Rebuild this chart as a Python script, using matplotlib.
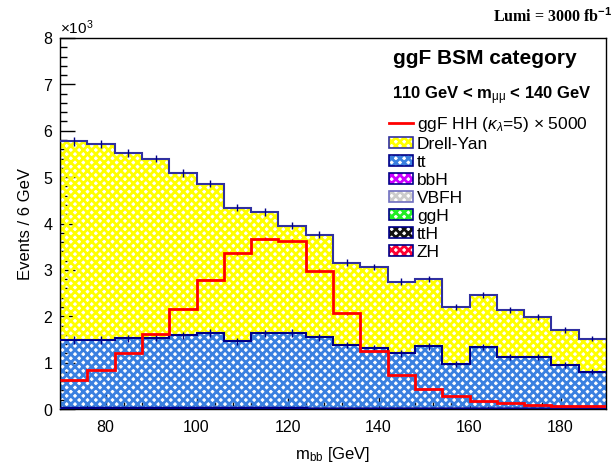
import matplotlib
matplotlib.use("Agg")
import matplotlib.pyplot as plt
from matplotlib.patches import Patch
from matplotlib.lines import Line2D
from matplotlib.ticker import MultipleLocator
import numpy as np

plt.rcParams['font.family'] = ['Liberation Sans', 'DejaVu Sans']
plt.rcParams['mathtext.fontset'] = 'custom'
plt.rcParams['mathtext.rm'] = 'Liberation Sans'
plt.rcParams['mathtext.it'] = 'Liberation Sans:italic'
plt.rcParams['mathtext.bf'] = 'Liberation Sans:bold'
plt.rcParams['hatch.linewidth'] = 2.0

# m_bb binning: 20 bins of 6 GeV
edges = np.arange(70, 191, 6)

# events per bin
drell_yan = [4280, 4220, 4000, 3860, 3500, 3220, 2880, 2620, 2310, 2210,
             1770, 1740, 1550, 1460, 1220, 1130, 1010, 870, 750, 710]
ttbar = [1480, 1480, 1510, 1530, 1580, 1630, 1450, 1620, 1630, 1540,
         1370, 1310, 1190, 1340, 970, 1330, 1110, 1110, 950, 800]
zh = [3, 3, 3, 3, 3, 4, 4, 4, 3, 3, 3, 2, 2, 2, 2, 2, 1, 1, 1, 1]
tth = [2, 2, 2, 2, 2, 2, 2, 2, 2, 2, 2, 2, 1, 1, 1, 1, 1, 1, 1, 1]
ggh = [4, 4, 4, 4, 4, 4, 4, 4, 4, 3, 3, 3, 3, 3, 2, 2, 2, 2, 2, 2]
vbfh = [1, 1, 1, 1, 1, 1, 1, 1, 1, 1, 1, 1, 1, 1, 1, 1, 1, 1, 1, 1]
bbh = [1, 1, 1, 1, 1, 1, 1, 1, 1, 1, 1, 1, 1, 1, 1, 1, 1, 1, 1, 1]
# signal, already multiplied by 5000
hh_signal = [620, 850, 1200, 1610, 2150, 2780, 3360, 3670, 3630, 2980,
             2060, 1260, 730, 430, 290, 180, 140, 90, 70, 60]

# statistical uncertainties
tot_err = [90, 90, 85, 85, 85, 80, 80, 80, 75, 75, 75, 70, 70, 70, 65, 65, 65, 60, 60, 60]
tt_err = [80, 80, 80, 80, 80, 80, 75, 80, 80, 75, 75, 70, 70, 75, 65, 75, 70, 70, 65, 60]
hh_err = [15, 20, 20, 25, 25, 30, 30, 30, 30, 30, 25, 20, 15, 10, 10, 8, 8, 6, 5, 5]

navy = '#000088'
stack = [
    ('ZH', zh, '#ff0033', navy),
    ('ttH', tth, '#111111', navy),
    ('ggH', ggh, '#22ee22', navy),
    ('VBFH', vbfh, '#cccccc', '#7070c0'),
    ('bbH', bbh, '#cc00ff', navy),
    ('tt', ttbar, '#3a80e0', navy),
    ('Drell-Yan', drell_yan, '#ffff00', '#3030a0'),
]

fig = plt.figure(figsize=(6.16, 4.66), dpi=100)
ax = fig.add_axes([60 / 616, 57 / 466, 546 / 616, 371 / 466])
ax.set_axisbelow(True)

centers = 0.5 * (edges[:-1] + edges[1:])
base = np.zeros(len(centers))
handles = {}
for name, vals, col, edge in stack:
    top = base + np.array(vals)
    ax.stairs(top, edges, baseline=base, fill=True, facecolor='none',
              edgecolor=col, hatch='xxxx', linewidth=0, zorder=2)
    lw = 1.5 if name in ('tt', 'Drell-Yan') else 2.5
    ax.stairs(top, edges, baseline=None, color=edge, linewidth=lw, zorder=3)
    handles[name] = (Patch(facecolor='none', edgecolor=col, hatch='xxxx', linewidth=0),
                     Patch(facecolor='none', edgecolor=edge, linewidth=1.2))
    base = top

tt_top = np.array(zh) + np.array(tth) + np.array(ggh) + np.array(vbfh) + np.array(bbh) + np.array(ttbar)
ax.errorbar(centers, tt_top, yerr=tt_err, fmt='none', ecolor=navy, elinewidth=1.0, zorder=4)
ax.errorbar(centers, base, yerr=tot_err, fmt='none', ecolor=navy, elinewidth=1.0, zorder=4)

ax.stairs(hh_signal, edges, baseline=None, color='#ff0000', linewidth=2.0, zorder=5)
ax.errorbar(centers, hh_signal, yerr=hh_err, fmt='none', ecolor='#ff0000', elinewidth=1.0, zorder=5)

ax.set_xlim(70, 190)
ax.set_ylim(0, 8000)
ax.xaxis.set_major_locator(MultipleLocator(20))
ax.xaxis.set_minor_locator(MultipleLocator(4))
ax.yaxis.set_major_locator(MultipleLocator(1000))
ax.yaxis.set_minor_locator(MultipleLocator(200))
ax.ticklabel_format(axis='y', style='sci', scilimits=(3, 3), useMathText=True)
ax.yaxis.get_offset_text().set_fontsize(11)
ax.tick_params(which='both', direction='in', labelsize=11.5, width=1.0, color='black')
ax.tick_params(axis='x', pad=8)
ax.tick_params(axis='y', pad=5)
ax.tick_params(which='major', length=11)
ax.tick_params(which='minor', length=5)
for s in ax.spines.values():
    s.set_linewidth(1.0)

ax.set_xlabel(r'm$_{\mathrm{bb}}$ [GeV]', fontsize=12, labelpad=7)
ax.set_ylabel('Events / 6 GeV', fontsize=12, labelpad=7)

fig.text(612 / 616, 1 - 17 / 466, r'Lumi = 3000 fb$^{\mathbf{-1}}$', ha='right', va='center',
         fontsize=11.5, fontweight='bold', family='Liberation Serif')

fig.text(393 / 616, 1 - 59 / 466, 'ggF BSM category', ha='left', va='center',
         fontsize=15, fontweight='bold')
fig.text(392 / 616, 1 - 96 / 466, r'110 GeV < m$_{\mathrm{\mu\mu}}$ < 140 GeV', ha='left', va='center',
         fontsize=12, fontweight='bold')

legend_order = ['Drell-Yan', 'tt', 'bbH', 'VBFH', 'ggH', 'ttH', 'ZH']
leg_handles = [Line2D([], [], color='#ff0000', linewidth=2.0)] + [handles[n] for n in legend_order]
leg_labels = [r'ggF HH ($\kappa_{\lambda}$=5) $\times$ 5000'] + legend_order
ax.legend(leg_handles, leg_labels, loc='upper left', bbox_to_anchor=(389 / 616, 1 - 115 / 466),
          bbox_transform=fig.transFigure, frameon=False, fontsize=12.5, borderpad=0,
          borderaxespad=0, handlelength=1.4, handleheight=0.6, handletextpad=0.2,
          labelspacing=0.17)

fig.savefig('out.png', dpi=100)
